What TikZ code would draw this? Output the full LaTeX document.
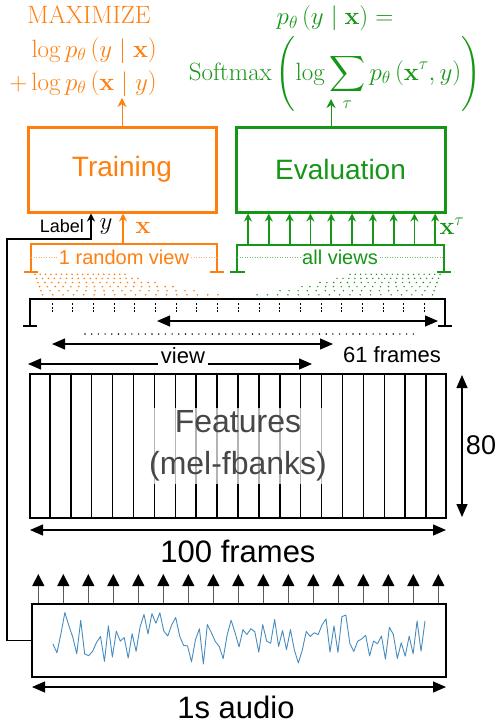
\RequirePackage{fix-cm}
\documentclass[tikz,border=0pt]{standalone}
\usepackage{amsmath}
\usepackage{amssymb}
\usepackage[no-math]{fontspec}
\newfontfamily\arialfont{Liberation Sans}
\usepackage{xcolor}
\usepackage{tikz}
\usetikzlibrary{arrows.meta, positioning, calc}

\definecolor{trainorange}{RGB}{255,127,14}
\definecolor{evalgreen}{RGB}{22,150,22}
\definecolor{waveblue}{RGB}{70,140,190}

\begin{document}
\begin{tikzpicture}[
    x=1pt, y=-1pt,
    stagebox/.style={rectangle, draw, line width=3pt, minimum height=85pt, font=\arialfont\fontsize{28}{32}\selectfont},
    signalbox/.style={rectangle, draw, line width=2pt},
    sanslabel/.style={font=\arialfont\fontsize{#1}{#1}\selectfont, inner sep=1pt},
    mathlabel/.style={font=\fontsize{25}{33}\selectfont, inner sep=1pt},
    dimarrow/.style={{Triangle[length=13pt,width=11pt]}-{Triangle[length=13pt,width=11pt]}, line width=1.2pt},
    thinup/.style={-{Stealth[length=9pt,width=9pt]}, line width=1pt},
    viewup/.style={-{Stealth[length=8pt,width=8pt]}, line width=1.8pt},
    frameup/.style={-{Triangle[length=12pt,width=12pt,color=black]}, line width=1pt, draw=black!65}
]
    \useasboundingbox (0,0) rectangle (498,725);

    % Top row: the two stages
    \node[stagebox, draw=trainorange, text=trainorange, minimum width=188pt] (training) at (122,169.5) {Training};
    \node[stagebox, draw=evalgreen, text=evalgreen, minimum width=209pt, right=17pt of training] (evaluation) {Evaluation};

    % Objectives
    \node[mathlabel, text=trainorange, anchor=base] (maxhead) at (89,24) {MAXIMIZE};
    \node[mathlabel, text=trainorange, anchor=base east] (maxcls) at (158,57) {$\log p_\theta\left(y\mid\mathbf{x}\right)$};
    \node[mathlabel, text=trainorange, anchor=base east] (maxgen) at (158,90) {$+\log p_\theta\left(\mathbf{x}\mid y\right)$};
    \node[mathlabel, text=evalgreen, anchor=base] (evalhead) at (335,25) {$p_\theta\left(y\mid\mathbf{x}\right) =$};
    \node[mathlabel, text=evalgreen, anchor=base] (evalform) at (335,80) {$\displaystyle \mathrm{Softmax}\left(\log\sum_{\tau} p_\theta\left(\mathbf{x}^{\tau},y\right)\right)$};

    \coordinate (traintip) at (123,98);
    \coordinate (evaltip) at (331,99);
    \draw[thinup, trainorange] (training.north) -- (training.north |- traintip);
    \draw[thinup, evalgreen] (evaluation.north -| evaltip) -- (evaltip);

    % Inputs of the stages
    \node[sanslabel=18, anchor=east] (labeltxt) at (85,226) {Label};
    \node[mathlabel] (ylbl) at (106,227) {$y$};
    \node[mathlabel, text=trainorange] (xlbl) at (143,228) {$\mathbf{x}$};
    \node[mathlabel, text=evalgreen] (xtaulbl) at (452,226) {$\mathbf{x}^{\tau}$};

    % 1 random view bracket
    \draw[trainorange, line width=1.5pt] (24,272) -- (38,272) (31,272) -- (31,244) -- (217,244) -- (217,272) (210,272) -- (224,272);
    \draw[trainorange!60, line width=0.6pt, dash pattern=on 1pt off 1.5pt] (31,257) -- (217,257);
    \node[sanslabel=20, text=trainorange, fill=white] (randview) at (124,257) {1 random view};
    \coordinate (randtop) at (123,244);
    \draw[viewup, line width=1.5pt, trainorange] (randtop) -- (training.south -| randtop);

    % all views bracket
    \draw[evalgreen, line width=1.5pt] (230,272) -- (245,272) (237,272) -- (237,245) -- (444,245) -- (444,272) (437,272) -- (451,272);
    \draw[evalgreen!60, line width=0.6pt, dash pattern=on 1pt off 1.5pt] (237,257) -- (444,257);
    \node[sanslabel=20, text=evalgreen, fill=white] (allviews) at (340,257) {all views};
    \foreach \k [evaluate=\k as \xx using 248+20.8*\k] in {0,...,9}
        \draw[viewup, evalgreen] (\xx,245) -- (evaluation.south -| \xx,0);

    % fans of dots down to the frame axis
    \foreach \yy/\ll/\rr in {274.3/35/125, 278.4/36.5/138, 282.5/38/155, 286.6/39.5/173, 290.7/41/194, 294.8/42.5/218}
        \foreach \j in {0,...,17}
            \fill[trainorange] ({\ll+(\rr-\ll)*\j/17},\yy) circle (0.9pt);
    \foreach \yy/\ll/\rr in {274.3/350/440, 278.4/337/438.5, 282.5/320/437, 286.6/302/435.5, 290.7/280/434, 294.8/257/432.5}
        \foreach \j in {0,...,17}
            \fill[evalgreen] ({\ll+(\rr-\ll)*\j/17},\yy) circle (0.8pt);

    % frame axis
    \draw[line width=2pt] (23,326) -- (37,326) (30,326) -- (30,299) -- (445,299) -- (445,326) (438,326) -- (452,326);
    \foreach \k in {0,...,18}
        \draw[line width=0.9pt, dash pattern=on 2pt off 1.5pt] ({52+20.7*\k},303) -- ({52+20.7*\k},312);

    % sliding views
    \draw[dimarrow] (157,321) -- (438,321);
    \draw[line width=1.6pt, line cap=round, dash pattern=on 0pt off 6.7pt] (85,334) -- (418,334);
    \draw[dimarrow] (52,344) -- (333,344);
    \draw[dimarrow] (28,364) -- (312,364);
    \node[sanslabel=22, fill=white, inner sep=3pt] (viewlbl) at (183,356) {view};
    \node[sanslabel=22] (framesview) at (392,355) {61 frames};

    % Features
    \node[signalbox, minimum width=416pt, minimum height=144pt] (features) at (238,446) {};
    \foreach \k in {1,...,19}
        \draw[line width=1.5pt] ($(features.south west)!\k/20!(features.south east)$) -- ($(features.north west)!\k/20!(features.north east)$);
    \node[font=\arialfont\fontsize{32}{42}\selectfont, align=center, text=black!72, fill=white, fill opacity=0.7, text opacity=1, inner sep=3pt] (featlbl) at (features) {Features\\(mel-fbanks)};
    \draw[dimarrow] (30,530) -- (446,530);
    \node[sanslabel=31] (featwidth) at (238,551) {100 frames};
    \draw[dimarrow] (462,375) -- (462,517);
    \node[sanslabel=27] (featheight) at (481,445) {80};

    % Audio
    \node[signalbox, minimum width=414pt, minimum height=73pt] (audio) at (239,640.5) {};
    \pgfmathsetseed{12}
    \draw[waveblue, line width=0.9pt, line join=round] plot[domain=53:425, samples=95] (\x, {638 + 21*rand + 6*sin(4*\x)});
    \foreach \k [evaluate=\k as \xx using 38.3+25*\k] in {0,...,16}
        \draw[frameup] (audio.north -| \xx,0) -- (\xx,574);
    \draw[dimarrow] (32,687) -- (446,687);
    \node[sanslabel=31] (audiolen) at (236,707) {1s audio};

    % Label path
    \draw[line width=1.5pt, -{Stealth[length=8pt,width=8pt]}] (audio.west) -| (7,239) -| (training.south -| 91,0);
\end{tikzpicture}
\end{document}
